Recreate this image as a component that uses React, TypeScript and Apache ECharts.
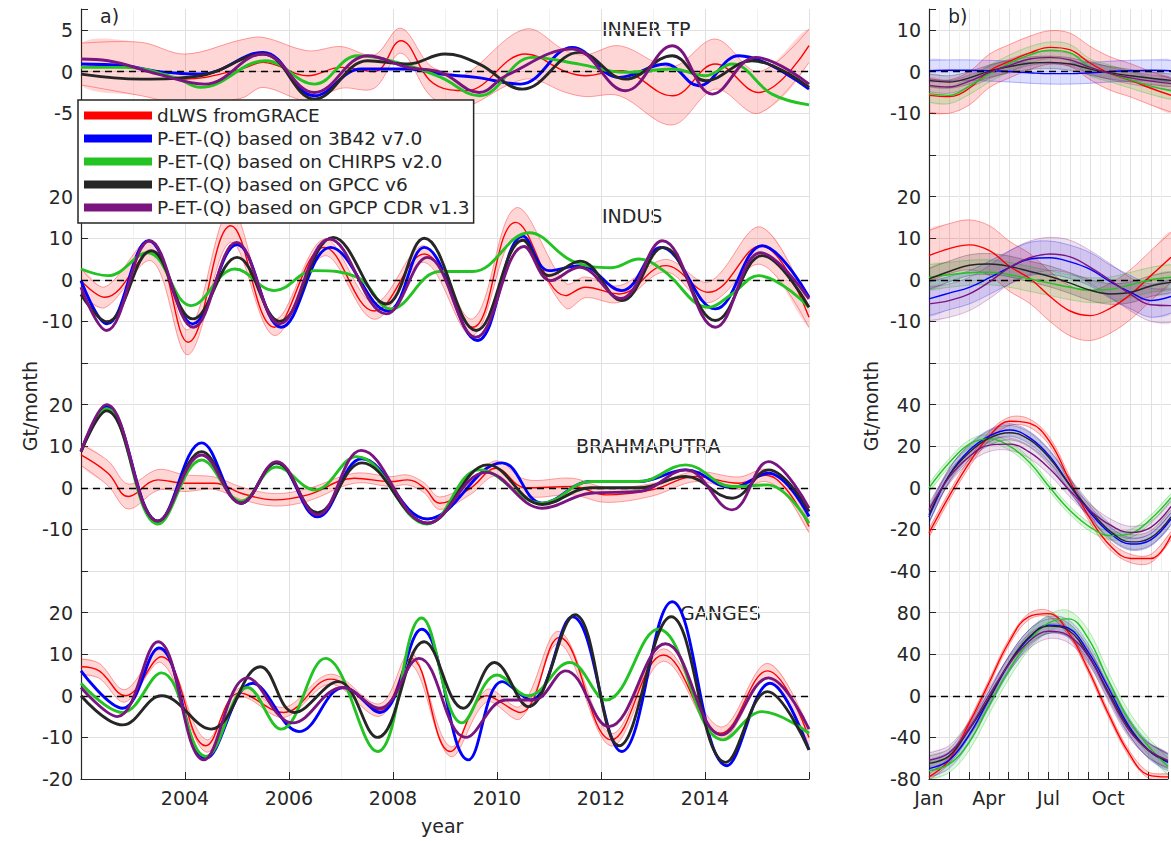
import { useEffect, useRef } from "react";
import * as echarts from "echarts";

const FONT = "DejaVu Sans";
const INK = "#262626";
const GRID_COLOR = "#e0e0e0";

const SERIES_NAMES = [
  "dLWS fromGRACE",
  "P-ET-(Q) based on 3B42 v7.0",
  "P-ET-(Q) based on CHIRPS v2.0",
  "P-ET-(Q) based on GPCC v6",
  "P-ET-(Q) based on GPCP CDR v1.3",
];
const COLORS = ["#ff0000", "#0000ff", "#22c322", "#262626", "#7a1580"];
const BAND_FILLS = [
  "rgba(255,0,0,0.16)",
  "rgba(0,0,255,0.13)",
  "rgba(0,190,0,0.13)",
  "rgba(0,0,0,0.13)",
  "rgba(122,21,128,0.13)",
];
const BAND_EDGES = [
  "rgba(255,0,0,0.45)",
  "rgba(0,0,255,0.35)",
  "rgba(0,190,0,0.35)",
  "rgba(0,0,0,0.3)",
  "rgba(122,21,128,0.35)",
];

const BASIN_TITLES = ["INNER TP", "INDUS", "BRAHMAPUTRA", "GANGES"];
const MONTHS = [1, 2, 3, 4, 5, 6, 7, 8, 9, 10, 11, 12, 13];
const MONTH_NAMES: Record<number, string> = { 1: "Jan", 4: "Apr", 7: "Jul", 10: "Oct" };

// ---------- Panel a) : [year, value, spread] for GRACE, [year, value] for models ----------
const tpGrace = [
  [2002.0, 0.9, 2.5], [2003.16, 0.3, 3.2], [2004.0, -0.9, 3], [2005.08, 0.3, 3.5], [2005.5, 1.1, 3],
  [2006.36, -0.5, 3], [2007.0, 0.5, 2.5], [2007.64, 0, 2], [2008.15, 3.7, 1.5], [2008.7, -1, 1.8],
  [2009.1, -2.2, 2], [2009.4, -2.3, 2], [2010.55, 2.1, 3], [2011.32, 0, 2.5], [2011.7, -0.5, 2.5],
  [2012.35, 0.1, 3], [2013.37, -2.9, 3.5], [2014.2, 0.9, 3], [2015.03, -2.5, 2.5], [2016.0, 3.1, 2],
];
const tp3B42 = [
  [2002.0, 0.9], [2002.84, 0.7], [2003.5, 0], [2004.3, -0.3], [2005.5, 2.3], [2006.49, -2.9],
  [2007.39, 0.3], [2008.3, 0.3], [2008.92, -0.3], [2009.6, -0.7], [2010.45, -1.5], [2011.45, 2.9],
  [2012.35, -0.7], [2013.24, 0.9], [2013.88, -1.7], [2014.65, 1.9], [2016.0, -2.1],
];
const tpChirps = [
  [2002.0, 0.5], [2002.84, 0.5], [2003.8, -0.7], [2004.3, -1.9], [2005.55, 1.3], [2006.49, -1.5],
  [2007.32, 1.9], [2008.3, 0.7], [2008.92, -0.7], [2009.66, -2.9], [2010.68, 1.7], [2011.58, 0.9],
  [2012.47, -0.1], [2013.37, 0.3], [2014.01, -0.5], [2014.52, 0.9], [2015.29, -2.7], [2016.0, -4],
];
const tpGpcc = [
  [2002.0, -0.3], [2003.16, -0.9], [2004.3, -0.5], [2005.5, 2.1], [2006.49, -3.3], [2007.51, 1.3],
  [2008.28, 0.9], [2009.0, 2.1], [2009.66, 0.9], [2010.49, -2.1], [2011.58, 2.3], [2012.47, -0.9],
  [2013.37, 1.9], [2014.01, -1.1], [2014.9, 1.3], [2016.0, -1.9],
];
const tpGpcp = [
  [2002.0, 1.5], [2002.52, 1.3], [2003.48, -0.3], [2004.38, -1.5], [2005.5, 2.1], [2006.49, -2.5],
  [2007.51, 1.9], [2008.28, 0.5], [2008.92, -0.1], [2009.66, -2.5], [2010.17, -0.5], [2011.45, 2.7],
  [2012.47, -2.3], [2013.37, 3.1], [2014.14, -2.7], [2014.97, 1.7], [2016.0, -1.5],
];

const indusGrace = [
  [2002.0, -0.2, 3], [2002.46, -4.2, 2.5], [2003.36, 7, 2.5], [2004.06, -15, 3], [2004.88, 13, 4],
  [2005.72, -11.4, 2], [2006.68, 7.8, 2], [2007.64, -7.5, 2], [2008.6, 6.2, 2], [2009.53, -11.4, 2],
  [2010.36, 13.8, 3.5], [2011.32, -3.8, 3], [2011.7, -1.8, 2.5], [2012.35, -3.4, 2], [2013.24, 3.4, 1.5],
  [2014.07, -3, 2.5], [2015.07, 8.2, 4.5], [2016.0, -9, 2.5],
];
const indus3B42 = [
  [2002.0, -0.2], [2002.5, -10.6], [2003.3, 9.4], [2004.15, -10.6], [2005.0, 8.5], [2005.85, -11.4],
  [2006.8, 7.8], [2007.9, -7.5], [2008.6, 7.8], [2009.62, -14.6], [2010.5, 10.5], [2011.0, 2.2],
  [2011.6, 3.4], [2012.4, -2.6], [2013.15, 7.8], [2014.2, -7], [2015.1, 8.2], [2016.0, -4.2],
];
const indusChirps = [
  [2002.0, 2.6], [2002.52, 1], [2003.28, 6.5], [2004.12, -6.2], [2004.96, 2.6], [2005.72, -2.6],
  [2006.49, 2.2], [2007.32, 0.6], [2007.96, -7], [2008.9, 2], [2009.53, 2], [2010.62, 11.3],
  [2011.45, 4.5], [2012.2, 2.9], [2012.73, 5], [2013.2, 2.2], [2014.07, -6.6], [2014.52, -3.4],
  [2015.03, 1], [2016.0, -6.6],
];
const indusGpcc = [
  [2002.0, -3.5], [2002.5, -10.1], [2003.35, 7], [2004.15, -9.4], [2005.0, 5.4], [2005.82, -10],
  [2006.85, 10.2], [2007.87, -5.8], [2008.6, 10], [2009.6, -12.2], [2010.5, 9.5], [2011.0, 1],
  [2011.6, 4.5], [2012.4, -5], [2013.2, 7.8], [2014.2, -9.8], [2015.1, 5.8], [2016.0, -6.6],
];
const indusGpcp = [
  [2002.0, -1.8], [2002.49, -12.2], [2003.32, 9.4], [2004.16, -11.4], [2004.99, 9], [2005.82, -10.6],
  [2006.78, 9.8], [2007.87, -8.2], [2008.66, 5.4], [2009.59, -13.8], [2010.52, 8], [2011.03, -0.2],
  [2011.58, 3], [2012.38, -4.5], [2013.18, 9.4], [2014.2, -11.4], [2015.07, 6.5], [2016.0, -4.6],
];

const brahmaGrace = [
  [2002.0, 7.9, 2.5], [2002.52, 3.5, 3], [2002.91, -2.1, 3], [2003.48, 1.9, 2.5], [2004.0, 1.1, 2],
  [2004.57, 1.1, 1.5], [2005.08, -1.3, 1.5], [2005.72, -2.9, 1.5], [2006.36, -1.7, 1.5], [2007.26, 2.3, 1.2],
  [2007.96, 1.5, 1.2], [2008.28, 1.9, 1.2], [2008.6, 0, 1.2], [2008.9, -3.7, 1.5], [2009.5, 0, 1.5],
  [2009.98, 4.7, 1.8], [2010.55, 0, 2], [2011.45, 0.3, 2], [2012.09, -1.7, 1.8], [2012.98, -0.5, 1.5],
  [2013.82, 2.7, 1.2], [2014.65, 1.1, 1.5], [2015.16, 3, 1.5], [2015.54, 0, 1.5], [2016.0, -9.3, 1.5],
];
const brahma3B42 = [
  [2002.0, 8.7], [2002.49, 19.5], [2003.48, -8], [2004.32, 10.8], [2005.08, -3.7], [2005.76, 6],
  [2006.55, -7], [2007.4, 7], [2008.66, -7.5], [2010.1, 6], [2010.87, -3.7], [2011.8, 1.5],
  [2012.73, 1.5], [2013.63, 4.3], [2014.52, 0], [2015.22, 3.5], [2016.0, -6.9],
];
const brahmaChirps = [
  [2002.0, 8.7], [2002.49, 19], [2003.48, -8.7], [2004.32, 6.7], [2005.08, -3.2], [2005.76, 5],
  [2006.5, -0.5], [2007.3, 7.5], [2008.66, -8.7], [2009.66, 4.3], [2010.87, -3.7], [2011.8, 1.5],
  [2012.73, 1.5], [2013.63, 5.5], [2014.52, 0.3], [2015.2, 0.7], [2016.0, -8.5],
];
const brahmaGpcc = [
  [2002.0, 8.7], [2002.49, 18.5], [2003.48, -8], [2004.32, 8.7], [2005.08, -3.7], [2005.76, 6],
  [2006.55, -6], [2007.4, 6], [2008.66, -8.5], [2009.82, 5.5], [2010.87, -4], [2011.8, 0],
  [2012.73, 0], [2013.63, 2.7], [2014.52, -2.5], [2015.22, 4.3], [2016.0, -5.7],
];
const brahmaGpcp = [
  [2002.0, 8.7], [2002.49, 20], [2003.48, -8], [2004.32, 7.9], [2005.08, -3.7], [2005.76, 6.3],
  [2006.55, -6.5], [2007.39, 9], [2008.66, -8.5], [2009.79, 3.7], [2010.87, -4.9], [2011.8, -1.3],
  [2012.73, -0.9], [2013.63, 4.3], [2014.52, -5.3], [2015.22, 6.3], [2016.0, -4.9],
];

const gangesGrace = [
  [2002.0, 7, 1.8], [2002.35, 6, 1.8], [2002.85, 0, 1.5], [2003.55, 9.4, 1.5], [2004.4, -12, 1.5],
  [2005.05, 0.7, 1.2], [2005.9, -4, 1.2], [2006.8, 4, 1.2], [2007.75, -3.4, 1.5], [2008.35, 9, 1.5],
  [2009.1, -13.4, 1.2], [2009.8, 0, 1.5], [2010.45, -4, 1.5], [2011.2, 14, 1.5], [2012.2, -10.6, 1.5],
  [2013.2, 9.8, 1.5], [2014.3, -9, 1.5], [2015.2, 6, 1.8], [2016.0, -10, 2],
];
const ganges3B42 = [
  [2002.0, 6], [2002.8, -3], [2003.5, 11.5], [2004.4, -15], [2005.3, 3], [2006.2, -8.6],
  [2007.05, 2], [2007.75, -4], [2008.55, 16], [2009.45, -15.4], [2010.1, 3.4], [2010.65, -1],
  [2011.45, 19], [2012.4, -13.4], [2013.37, 22.6], [2014.42, -16.8], [2015.25, 3], [2016.0, -13],
];
const gangesChirps = [
  [2002.0, 3], [2002.8, -4], [2003.55, 5.5], [2004.4, -14.6], [2005.2, 2], [2005.85, -8],
  [2006.7, 9], [2007.7, -13.4], [2008.55, 18.7], [2009.33, -6.5], [2010.0, 5], [2010.6, 0],
  [2011.4, 8], [2012.1, -1], [2013.1, 16], [2014.35, -10.6], [2015.1, -3.8], [2016.0, -9],
];
const gangesGpcc = [
  [2002.0, 0], [2002.8, -7], [2003.55, 0], [2004.5, -8], [2005.45, 7], [2006.1, -4],
  [2006.95, 3.4], [2007.7, -10], [2008.6, 13], [2009.35, -3], [2009.95, 8], [2010.6, -2.6],
  [2011.5, 19.5], [2012.35, -12], [2013.35, 19], [2014.4, -16], [2015.2, 1], [2016.0, -13],
];
const gangesGpcp = [
  [2002.0, 2], [2002.7, -5], [2003.48, 13], [2004.36, -15.4], [2005.2, 4.3], [2006.07, -6.5],
  [2007.03, 2], [2007.74, -3], [2008.5, 9], [2009.4, -10], [2010.17, -1], [2010.7, -1],
  [2011.32, 6], [2012.15, -7.4], [2013.24, 12.5], [2014.32, -9.4], [2015.22, 4.3], [2016.0, -8],
];

// ---------- Panel b) : mean seasonal cycle, Jan..Jan (13 months) ----------
const tpSeasonRed = [-5.7, -6.0, -4.0, 0.2, 2.5, 4.5, 5.8, 5.2, 2.0, -0.5, -2.1, -4.0, -5.7];
const tpSeasonBlue = [0.2, 0.3, 0.3, 0.2, 0, -0.3, -0.5, -0.5, -0.3, 0, 0.2, 0.3, 0.2];
const tpSeasonGreen = [-5.3, -5.7, -3.5, -0.5, 2.0, 4.0, 5.1, 4.5, 1.0, -0.5, -2.0, -3.5, -4.6];
const tpSeasonBlack = [-2.1, -2.5, -1.5, 0.1, 1.2, 2.0, 2.2, 1.8, 0.6, -0.3, -1.0, -1.6, -2.1];
const tpSeasonPurple = [-3.3, -3.7, -2.3, -0.2, 1.5, 3.0, 3.4, 2.8, 1.0, -0.5, -1.5, -2.3, -2.9];
const tpSeasonSpread = [4, 2.5, 2, 1.5, 1.5];

const indusSeasonRed = [5.8, 7.5, 8.4, 7.0, 3.2, 0.3, -4.0, -7.5, -8.6, -6.8, -3.5, 1.0, 5.4];
const indusSeasonBlue = [-4.6, -3.2, -1.8, 0.5, 3.0, 5.0, 5.3, 4.3, 2.5, -0.5, -3.0, -5.0, -4.0];
const indusSeasonGreen = [0.6, 1.2, 1.7, 1.8, 1.2, 0.2, -0.8, -1.8, -2.5, -2.3, -1.2, 0, 0.6];
const indusSeasonBlack = [0.2, 2.0, 3.5, 3.8, 3.2, 2.0, 0.8, -0.8, -2.5, -3.4, -3.0, -1.5, -0.6];
const indusSeasonPurple = [-5.8, -5.0, -3.4, -0.5, 3.0, 5.3, 6.2, 5.5, 3.0, -0.2, -3.5, -6.0, -6.2];
const indusSeasonSpread = [6, 4, 3, 2.5, 4];

const brahmaSeasonRed = [-21.7, -4, 12, 25, 32, 31, 22, 3, -15, -28, -34, -34, -23];
const brahmaSeasonBlue = [-14, 6, 18, 25, 27.8, 24, 15, 1, -12, -22, -27, -25, -15];
const brahmaSeasonGreen = [0, 12, 21, 23.5, 20, 12, 0, -11, -19, -23, -22, -15, -4.8];
const brahmaSeasonBlack = [-13, 6, 17, 24, 26.5, 23, 14, 1, -11, -21, -26, -24, -14];
const brahmaSeasonPurple = [-10.5, 5, 15, 20.5, 21, 17, 9, -1.5, -11, -18, -21.5, -19, -9];
const brahmaSeasonSpread = [2, 3, 2, 3.5, 3];

const gangesSeasonRed = [-78, -62, -27, 12, 51, 76, 79, 61, 25, -17, -54, -76, -78];
const gangesSeasonBlue = [-70, -62, -38, -4, 30, 55, 68, 65, 42, 8, -28, -52, -64];
const gangesSeasonGreen = [-72, -66, -45, -10, 24, 52, 70, 74, 55, 15, -22, -48, -68];
const gangesSeasonBlack = [-65, -58, -33, -3, 31, 56, 67, 63, 39, 4, -30, -52, -63];
const gangesSeasonPurple = [-62, -55, -32, 0, 30, 52, 62, 58, 38, 2, -32, -52, -62];
const gangesSeasonSpread = [3, 8, 8, 7, 7];

// ---------- assembly tables ----------
const LEFT_GRACE = [tpGrace, indusGrace, brahmaGrace, gangesGrace];
const LEFT_MODELS = [
  [tp3B42, tpChirps, tpGpcc, tpGpcp],
  [indus3B42, indusChirps, indusGpcc, indusGpcp],
  [brahma3B42, brahmaChirps, brahmaGpcc, brahmaGpcp],
  [ganges3B42, gangesChirps, gangesGpcc, gangesGpcp],
];
const RIGHT_SEASON = [
  [tpSeasonRed, tpSeasonBlue, tpSeasonGreen, tpSeasonBlack, tpSeasonPurple],
  [indusSeasonRed, indusSeasonBlue, indusSeasonGreen, indusSeasonBlack, indusSeasonPurple],
  [brahmaSeasonRed, brahmaSeasonBlue, brahmaSeasonGreen, brahmaSeasonBlack, brahmaSeasonPurple],
  [gangesSeasonRed, gangesSeasonBlue, gangesSeasonGreen, gangesSeasonBlack, gangesSeasonPurple],
];
const RIGHT_SPREAD = [tpSeasonSpread, indusSeasonSpread, brahmaSeasonSpread, gangesSeasonSpread];

const ROWS = [
  [9, 155],
  [155, 363],
  [363, 571],
  [571, 779],
];
const LEFT_Y = [
  { min: -10, max: 7.5, interval: 5, hide: [-10, 7.5] },
  { min: -20, max: 30, interval: 10, hide: [-20, 30] },
  { min: -20, max: 30, interval: 10, hide: [-20, 30] },
  { min: -20, max: 30, interval: 10, hide: [30] },
];
const RIGHT_Y = [
  { min: -20, max: 15, interval: 10, hide: [-20, 15] },
  { min: -20, max: 30, interval: 10, hide: [-20, 30] },
  { min: -40, max: 60, interval: 20, hide: [60] },
  { min: -80, max: 120, interval: 40, hide: [120] },
];

const SMOOTH = 0.4;

function lineSeries(name: string, data: number[][], color: string, width: number, gi: number, z: number, zero = false) {
  const s: any = {
    type: "line",
    name,
    data,
    xAxisIndex: gi,
    yAxisIndex: gi,
    smooth: SMOOTH,
    symbol: "none",
    showSymbol: false,
    silent: true,
    lineStyle: { color, width },
    itemStyle: { color },
    z,
  };
  if (zero) {
    s.markLine = {
      silent: true,
      symbol: ["none", "none"],
      label: { show: false },
      lineStyle: { color: "#000", type: [7, 5], width: 1.3 },
      data: [{ yAxis: 0 }],
    };
  }
  return s;
}

// band: rows of [x, low, high]
function bandSeries(rows: number[][], fill: string, edge: string, gi: number) {
  return {
    type: "custom",
    xAxisIndex: gi,
    yAxisIndex: gi,
    silent: true,
    clip: true,
    z: 1,
    data: rows,
    encode: { x: 0, y: [1, 2] },
    renderItem: (params: any, api: any) => {
      if (params.dataIndex !== 0) return null;
      const upper = rows.map((p) => api.coord([p[0], p[2]]));
      const lower = rows.map((p) => api.coord([p[0], p[1]]));
      const lowerRev = lower.slice().reverse();
      return {
        type: "group",
        children: [
          {
            type: "polygon",
            shape: { points: upper.concat(lowerRev), smooth: 0.35 },
            style: { fill, stroke: "none" },
          },
          {
            type: "polyline",
            shape: { points: upper, smooth: 0.35 },
            style: { stroke: edge, lineWidth: 0.8, fill: "none" },
          },
          {
            type: "polyline",
            shape: { points: lower, smooth: 0.35 },
            style: { stroke: edge, lineWidth: 0.8, fill: "none" },
          },
        ],
      };
    },
  };
}

function buildOption() {
  const grid: any[] = [];
  const xAxis: any[] = [];
  const yAxis: any[] = [];
  const series: any[] = [];

  const axisLabelBase = { fontSize: 19, fontFamily: FONT, color: INK };

  const makeY = (ya: any, gi: number, isTop: boolean) => ({
    type: "value",
    gridIndex: gi,
    min: ya.min,
    max: ya.max,
    interval: ya.interval,
    axisLine: { show: true, onZero: false, lineStyle: { color: INK, width: 1.2 } },
    axisTick: { show: true, inside: true, length: 7, lineStyle: { color: INK } },
    axisLabel: {
      ...axisLabelBase,
      margin: 8,
      formatter: (v: number) => (ya.hide.includes(v) ? "" : String(v)),
    },
    splitLine: { show: true, showMaxLine: !isTop, lineStyle: { color: GRID_COLOR, width: 1 } },
  });

  // left panel grids 0..3
  ROWS.forEach(([top, bottom], i) => {
    grid.push({ left: 81, width: 728, top, height: bottom - top });
    const isBottom = i === 3;
    xAxis.push({
      type: "value",
      gridIndex: i,
      min: 2002,
      max: 2016,
      interval: 2,
      axisLine: { show: isBottom, onZero: false, lineStyle: { color: INK, width: 1.2 } },
      axisTick: { show: isBottom, inside: true, length: 7, lineStyle: { color: INK } },
      axisLabel: {
        ...axisLabelBase,
        show: isBottom,
        margin: 9,
        formatter: (v: number) => (v === 2002 || v === 2016 ? "" : String(v)),
      },
      splitLine: { show: true, lineStyle: { color: GRID_COLOR, width: 1 } },
      minorTick: { show: false, splitNumber: 2 },
      minorSplitLine: { show: true, lineStyle: { color: "#f1f1f1", width: 1 } },
    });
    yAxis.push(makeY(LEFT_Y[i], i, i === 0));

    const g = LEFT_GRACE[i];
    series.push(bandSeries(g.map((p) => [p[0], p[1] - p[2], p[1] + p[2]]), BAND_FILLS[0], BAND_EDGES[0], i));
    series.push(lineSeries(SERIES_NAMES[0], g.map((p) => [p[0], p[1]]), COLORS[0], 1.4, i, 3, true));
    LEFT_MODELS[i].forEach((m, k) => {
      series.push(lineSeries(SERIES_NAMES[k + 1], m, COLORS[k + 1], 2.9, i, 4 + k));
    });
  });

  // right panel grids 4..7
  ROWS.forEach(([top, bottom], i) => {
    const gi = 4 + i;
    grid.push({ left: 929, width: 242, top, height: bottom - top });
    const isBottom = i === 3;
    xAxis.push({
      type: "value",
      gridIndex: gi,
      min: 1,
      max: 13,
      interval: 1,
      axisLine: { show: isBottom, onZero: false, lineStyle: { color: INK, width: 1.2 } },
      axisTick: { show: isBottom, inside: true, length: 7, lineStyle: { color: INK } },
      axisLabel: {
        ...axisLabelBase,
        show: isBottom,
        margin: 9,
        formatter: (v: number) => MONTH_NAMES[v] || "",
      },
      splitLine: { show: true, lineStyle: { color: GRID_COLOR, width: 1 } },
      minorTick: { show: false, splitNumber: 2 },
      minorSplitLine: { show: true, lineStyle: { color: "#f1f1f1", width: 1 } },
    });
    yAxis.push(makeY(RIGHT_Y[i], gi, i === 0));

    const sets = RIGHT_SEASON[i];
    const spreads = RIGHT_SPREAD[i];
    sets.forEach((vals, k) => {
      series.push(
        bandSeries(
          MONTHS.map((m, j) => [m, vals[j] - spreads[k], vals[j] + spreads[k]]),
          BAND_FILLS[k],
          BAND_EDGES[k],
          gi
        )
      );
    });
    sets.forEach((vals, k) => {
      series.push(
        lineSeries(SERIES_NAMES[k], MONTHS.map((m, j) => [m, vals[j]]), COLORS[k], 1.4, gi, 3 + k, k === 0)
      );
    });
  });

  const textStyle = (size = 19) => ({ fontSize: size, fontFamily: FONT, fill: INK });

  const graphic = [
    { type: "text", left: 100, top: 6, style: { text: "a)", ...textStyle() } },
    { type: "text", left: 948, top: 6, style: { text: "b)", ...textStyle() } },
    { type: "text", left: 602, top: 19, style: { text: BASIN_TITLES[0], ...textStyle() } },
    { type: "text", left: 602, top: 206, style: { text: BASIN_TITLES[1], ...textStyle() } },
    { type: "text", left: 576, top: 436, style: { text: BASIN_TITLES[2], ...textStyle() } },
    { type: "text", left: 680, top: 603, style: { text: BASIN_TITLES[3], ...textStyle() } },
    { type: "text", left: 421, top: 816, style: { text: "year", ...textStyle() } },
    {
      type: "text",
      x: 30,
      y: 406,
      rotation: Math.PI / 2,
      style: { text: "Gt/month", ...textStyle(), align: "center", verticalAlign: "middle" },
    },
    {
      type: "text",
      x: 871,
      y: 406,
      rotation: Math.PI / 2,
      style: { text: "Gt/month", ...textStyle(), align: "center", verticalAlign: "middle" },
    },
  ];

  return {
    animation: false,
    backgroundColor: "#ffffff",
    textStyle: { fontFamily: FONT },
    grid,
    xAxis,
    yAxis,
    series,
    graphic,
    legend: {
      data: SERIES_NAMES.map((n, i) => ({ name: n, itemStyle: { color: COLORS[i] } })),
      orient: "vertical",
      left: 78,
      top: 100,
      icon: "rect",
      itemWidth: 68,
      itemHeight: 8,
      itemGap: 4,
      itemStyle: { borderWidth: 0 },
      selectedMode: false,
      backgroundColor: "#ffffff",
      borderColor: INK,
      borderWidth: 1.5,
      borderRadius: 0,
      padding: [6, 4, 6, 6],
      textStyle: { fontSize: 18.5, fontFamily: FONT, color: INK, lineHeight: 19 },
      z: 10,
    },
  };
}

export default function App() {
  const ref = useRef<HTMLDivElement>(null);
  useEffect(() => {
    if (!ref.current) return;
    const chart = echarts.init(ref.current, undefined, { renderer: "svg" });
    chart.setOption(buildOption() as any);
    return () => chart.dispose();
  }, []);
  return (
    <div
      ref={ref}
      style={{ position: "fixed", left: 0, top: 0, width: 1171, height: 841, background: "#fff" }}
    />
  );
}
